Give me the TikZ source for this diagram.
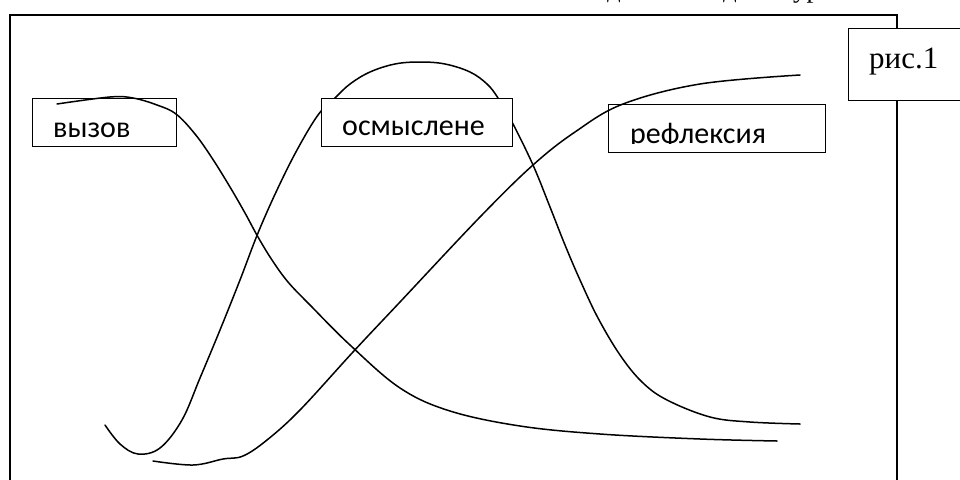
\documentclass[tikz,border=0pt]{standalone}
\usepackage{fontspec}
\setmainfont{Liberation Serif}
\newfontfamily\lblfont{Carlito}
\begin{document}
\begin{tikzpicture}[x=1pt,y=-1pt,
  curve/.style={line width=1.5pt, line cap=round, line join=round},
  lbox/.style={draw, line width=1.2pt, fill=white, inner sep=0pt, anchor=north west},
  lbl/.style={anchor=base west, inner sep=0pt, font=\lblfont\fontsize{30}{34}\selectfont},
  serif/.style={anchor=base west, inner sep=0pt, font=\fontsize{27}{31}\selectfont}]
\useasboundingbox (0,0) rectangle (960,479);
\clip (0,0) rectangle (960,479);
% cut-off line of text above the frame
\node[serif] (tA) at (607,-2) {д};
\node[serif] (tB) at (723,-2) {дии};
\node[serif] (tC) at (793,-2) {урока};
% outer frame
\draw[line width=1.8pt] (10,15) rectangle (897,495);
% label boxes under curves
\node[lbox, minimum width=144pt, minimum height=48pt] (vyzov) at (32,98) {};
\node[lbl] (vyzovt) at (53,137) {вызов};
\node[lbox, minimum width=217pt, minimum height=48pt] (refl) at (608,104) {};
\begin{scope}
  \clip (608,104) rectangle (825,143.5);
  \node[lbl] (reflt) at (630,143) {рефлексия};
\end{scope}
% curve of the call stage
\draw[curve] plot[smooth, tension=0.6] coordinates {(57,104) (110,97) (133,98) (157,105) (176,114) (195,134) (212,158) (230,187) (245,213) (258,237) (272,260) (288,282) (310,305) (350,345) (400,388) (450,411) (520,426) (600,434) (700,439) (777,441)};
% curve of the reflection stage
\draw[curve] plot[smooth, tension=0.6] coordinates {(153,461) (193,465) (223,459) (243,456) (267,440) (300,410) (353,352) (400,302) (480,217) (533,165) (575,132) (623,104) (700,84) (800,75)};
% bell curve of the comprehension stage
\draw[curve] plot[smooth, tension=0.6] coordinates {(105,425) (120,444) (138,454) (160,448) (182,420) (200,378) (220,330) (240,280) (258,233) (277,190) (297,150) (318,115) (335,98) (350,84) (370,72) (395,64) (420,62) (445,64) (470,72) (487,84) (498,98) (512,122) (533,165) (550,207) (565,245) (580,280) (598,318) (620,355) (642,382) (667,400) (710,417) (750,422) (800,424)};
% comprehension box over its curve
\node[lbox, minimum width=191pt, minimum height=48pt] (osm) at (321,98) {};
\node[lbl] (osmt) at (342,135) {осмыслене};
% figure label box
\node[lbox, line width=1.3pt, minimum width=120pt, minimum height=72pt] (ris) at (848,28) {};
\node[serif, font=\fontsize{31}{35}\selectfont] (rist) at (869,68) {рис.1};
\end{tikzpicture}
\end{document}
